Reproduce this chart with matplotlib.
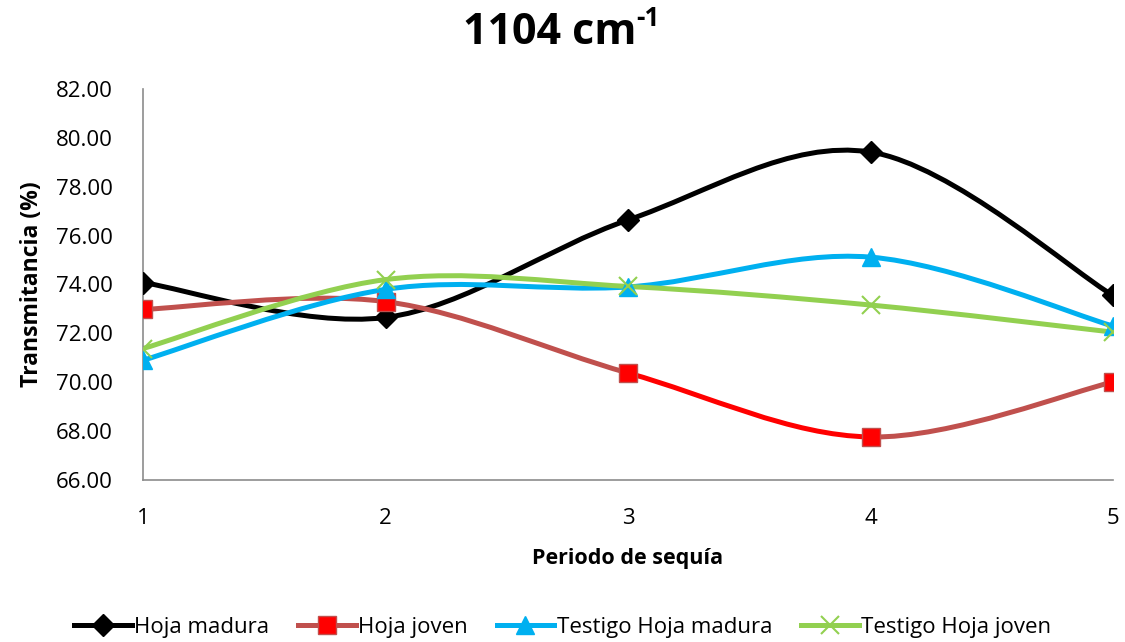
import matplotlib
matplotlib.use('Agg')
import matplotlib.pyplot as plt
from matplotlib.path import Path
from matplotlib.patches import PathPatch
from matplotlib.lines import Line2D

plt.rcParams['font.family'] = ['Open Sans', 'DejaVu Sans']

# data
periodos = [1, 2, 3, 4, 5]
hoja_madura = [74.08, 72.65, 76.64, 79.42, 73.55]
hoja_joven = [72.98, 73.30, 70.38, 67.76, 70.01]
testigo_madura = [70.90, 73.80, 73.90, 75.12, 72.30]
testigo_joven = [71.38, 74.20, 73.92, 73.16, 72.05]
etiquetas = ['Hoja madura', 'Hoja joven', 'Testigo Hoja madura', 'Testigo Hoja joven']


def smooth_segments(xs, ys):
    # Excel-style smoothed line: one cubic bezier per segment
    n = len(xs)
    pts = list(zip(xs, ys))
    segs = []
    for i in range(n - 1):
        p0 = pts[i - 1] if i > 0 else pts[i]
        p1 = pts[i]
        p2 = pts[i + 1]
        p3 = pts[i + 2] if i + 2 < n else pts[i + 1]
        c1 = (p1[0] + (p2[0] - p0[0]) / 6, p1[1] + (p2[1] - p0[1]) / 6)
        c2 = (p2[0] - (p3[0] - p1[0]) / 6, p2[1] - (p3[1] - p1[1]) / 6)
        segs.append(Path([p1, c1, c2, p2],
                         [Path.MOVETO, Path.CURVE4, Path.CURVE4, Path.CURVE4]))
    return segs


fig = plt.figure(figsize=(11.25, 6.42), dpi=100)
ax = fig.add_axes([143 / 1125, 1 - 480 / 642, (1113 - 143) / 1125, (480 - 89) / 642])

series = [
    (hoja_madura, ['#000000'] * 4, 'D', '#000000', '#000000', 11, 1),
    (hoja_joven, ['#C0504D', '#C0504D', '#FF0000', '#C0504D'], 's', '#FF0000', '#C0504D', 13, 1),
    (testigo_madura, ['#00B0F0'] * 4, '^', '#00B0F0', '#00B0F0', 13, 1),
    (testigo_joven, ['#92D050'] * 4, 'x', '#92D050', '#92D050', 13, 1.5),
]

handles = []
for vals, seg_cols, mk, mfc, mec, ms, mew in series:
    for path, col in zip(smooth_segments(periodos, vals), seg_cols):
        ax.add_patch(PathPatch(path, facecolor='none', edgecolor=col, lw=3.6,
                               capstyle='round', joinstyle='round', zorder=2))
    ax.plot(periodos, vals, linestyle='none', marker=mk, markersize=ms,
            markerfacecolor=mfc, markeredgecolor=mec, markeredgewidth=mew, zorder=3)
    handles.append(Line2D([], [], color=seg_cols[0], lw=3.6, marker=mk, markersize=ms,
                          markerfacecolor=mfc, markeredgecolor=mec, markeredgewidth=mew))

ax.set_xlim(1, 5)
ax.set_ylim(66, 82)
ax.set_xticks(periodos)
ax.set_xticklabels([str(p) for p in periodos])
ax.set_yticks([66, 68, 70, 72, 74, 76, 78, 80, 82])
ax.yaxis.set_major_formatter(matplotlib.ticker.FormatStrFormatter('%.2f'))
ax.tick_params(axis='both', length=0, labelsize=16, colors='#000000')
ax.tick_params(axis='x', pad=20)
ax.tick_params(axis='y', pad=22)
for s in ['top', 'right']:
    ax.spines[s].set_visible(False)
for s in ['left', 'bottom']:
    ax.spines[s].set_color('#8C8C8C')
    ax.spines[s].set_linewidth(1.2)

ax.set_xlabel('Periodo de sequía', fontsize=15.5, fontweight='bold', labelpad=14)
ax.set_ylabel('Transmitancia (%)', fontsize=16.5, fontweight='bold', labelpad=8)

# title with a hyphen superscript, as in the original
fig.text(463 / 1125, 1 - 32 / 642, '1104 cm', ha='left', va='center',
         fontsize=31, fontweight='bold')
fig.text(636 / 1125, 1 - 19 / 642, '-1', ha='left', va='center',
         fontsize=19, fontweight='bold')

fig.legend(handles, etiquetas, loc='center', bbox_to_anchor=(0.5, 1 - 627 / 642),
           ncol=4, frameon=False, fontsize=16, handlelength=2.6, handletextpad=0.1,
           columnspacing=1.3)

fig.savefig('out.png', dpi=100)
